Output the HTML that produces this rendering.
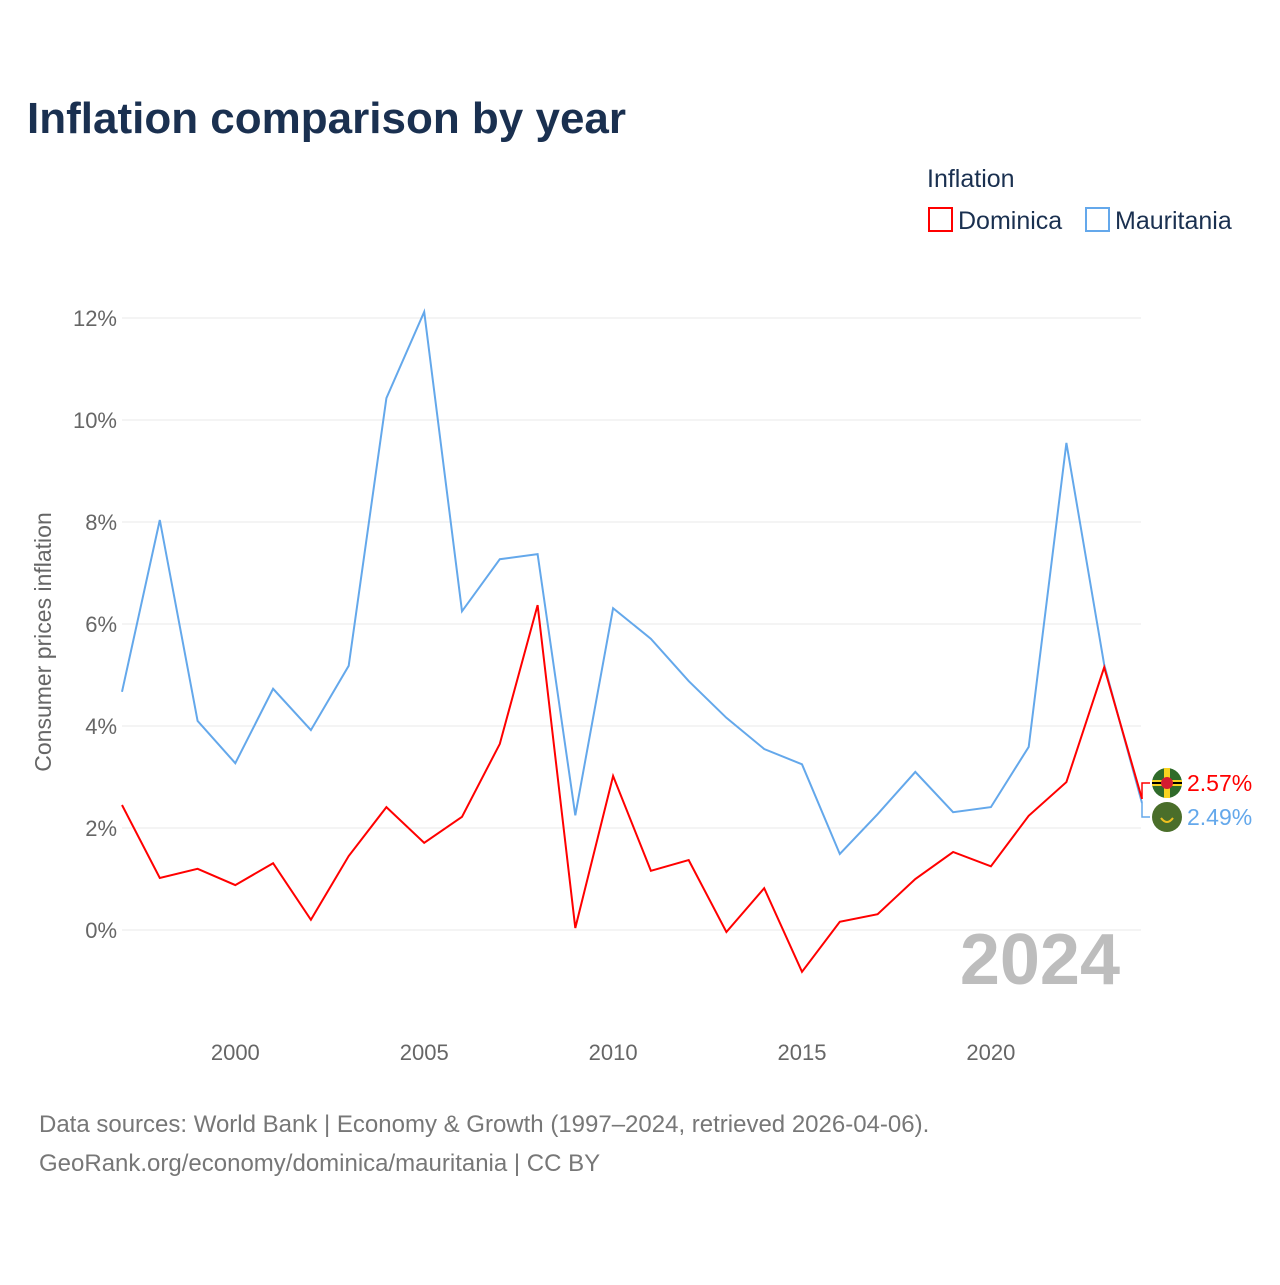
<!DOCTYPE html>
<html><head><meta charset="utf-8"><style>
body{margin:0;background:#fff;font-family:"Liberation Sans",sans-serif;}
svg text{font-family:"Liberation Sans",sans-serif;}
</style></head><body>
<svg width="1280" height="1280" xmlns="http://www.w3.org/2000/svg">
<text x="27" y="133" font-size="44" font-weight="bold" fill="#1a3050">Inflation comparison by year</text>
<text x="927" y="187" font-size="25" fill="#1a3050">Inflation</text>
<g><rect x="929" y="208" width="23" height="23" fill="none" stroke="#ff0000" stroke-width="2"/><text x="958" y="229" font-size="25" fill="#1a3050">Dominica</text></g>
<g><rect x="1086" y="208" width="23" height="23" fill="none" stroke="#64a8eb" stroke-width="2"/><text x="1115" y="229" font-size="25" fill="#1a3050">Mauritania</text></g>
<g id="grid"></g>
<g id="yt"></g>
<g id="xt"></g>
<text transform="translate(51,642) rotate(-90)" text-anchor="middle" font-size="23" fill="#666">Consumer prices inflation</text>
<text x="1120" y="984" text-anchor="end" font-size="72" font-weight="bold" fill="#bdbdbd">2024</text>
<g id="lines"></g>
<g id="ends"></g>
<text x="39" y="1132" font-size="24" fill="#777">Data sources: World Bank | Economy &amp; Growth (1997–2024, retrieved 2026-04-06).</text>
<text x="39" y="1171" font-size="24" fill="#777">GeoRank.org/economy/dominica/mauritania | CC BY</text>
</svg>
<script>
const years=[1997,1998,1999,2000,2001,2002,2003,2004,2005,2006,2007,2008,2009,2010,2011,2012,2013,2014,2015,2016,2017,2018,2019,2020,2021,2022,2023,2024];
const mauritania=[4.67,8.04,4.10,3.27,4.73,3.92,5.18,10.43,12.12,6.25,7.27,7.37,2.25,6.31,5.71,4.88,4.16,3.55,3.25,1.49,2.27,3.10,2.31,2.41,3.59,9.55,5.2,2.49];
const dominica=[2.45,1.02,1.2,0.88,1.31,0.2,1.45,2.41,1.71,2.22,3.65,6.37,0.04,3.02,1.16,1.37,-0.04,0.82,-0.82,0.16,0.31,1.0,1.53,1.25,2.24,2.9,5.15,2.57];
const yTicks=[0,2,4,6,8,10,12];
const yTickLabels=["0%","2%","4%","6%","8%","10%","12%"];
const xTicks=[2000,2005,2010,2015,2020];
const NS="http://www.w3.org/2000/svg";
const x=v=>122+(v-1997)*(1142-122)/27;
const y=v=>930-v*51;
function mk(t,a,p){const e=document.createElementNS(NS,t);for(const k in a)e.setAttribute(k,a[k]);p.appendChild(e);return e;}
const grid=document.getElementById('grid'),yt=document.getElementById('yt'),xt=document.getElementById('xt');
yTicks.forEach((v,i)=>{
 const l=mk('line',{x1:122,x2:1141,y1:y(v),y2:y(v),stroke:'#e8e8e8','stroke-width':1},grid);
 
 
 const t=mk('text',{x:117,y:y(v)+8,'text-anchor':'end','font-size':22,fill:'#666'},yt);
 t.textContent=yTickLabels[i];
 
 
});
xTicks.forEach(v=>{
 const t=mk('text',{x:x(v),y:1060,'text-anchor':'middle','font-size':22,fill:'#666'},xt);
 t.textContent=v;
 
 
});
const lines=document.getElementById('lines');
function line(data,col,name){
 const d=data.map((v,i)=>(i?'L':'M')+x(years[i]).toFixed(1)+','+y(v).toFixed(1)).join('');
 const p=mk('path',{d:d,fill:'none',stroke:col,'stroke-width':2,'stroke-linejoin':'miter'},lines);
 
 
}
line(mauritania,'#64a8eb','line-mauritania');
line(dominica,'#ff0000','line-dominica');
const ends=document.getElementById('ends');
const lastD=dominica[dominica.length-1],lastM=mauritania[mauritania.length-1];
const ex=x(2024);
mk('path',{d:`M${ex},${y(lastD)}L${ex},783L1150,783`,fill:'none',stroke:'#ff0000','stroke-width':1.5},ends);
mk('path',{d:`M${ex},${y(lastM)}L${ex},817L1150,817`,fill:'none',stroke:'#64a8eb','stroke-width':1.5},ends);
const fd=mk('g',{},ends);


mk('circle',{cx:1167,cy:783,r:15,fill:'#2f6b2a'},fd);
mk('rect',{x:1152,y:780,width:30,height:6,fill:'#f8d320'},fd);
mk('rect',{x:1164,y:768,width:6,height:30,fill:'#f8d320'},fd);
mk('rect',{x:1152,y:782,width:30,height:2,fill:'#000'},fd);
mk('circle',{cx:1167,cy:783,r:6,fill:'#d41c30'},fd);
const fm=mk('g',{},ends);


mk('circle',{cx:1167,cy:817,r:15,fill:'#4a6e2a'},fm);
mk('path',{d:'M1161,818 Q1167,826 1173,818',fill:'none',stroke:'#f0c020','stroke-width':2},fm);
const td=mk('text',{x:1187,y:791,'font-size':23,fill:'#ff0000'},ends);
td.textContent=lastD.toFixed(2)+'%';


const tm=mk('text',{x:1187,y:825,'font-size':23,fill:'#64a8eb'},ends);
tm.textContent=lastM.toFixed(2)+'%';


</script>
</body></html>
